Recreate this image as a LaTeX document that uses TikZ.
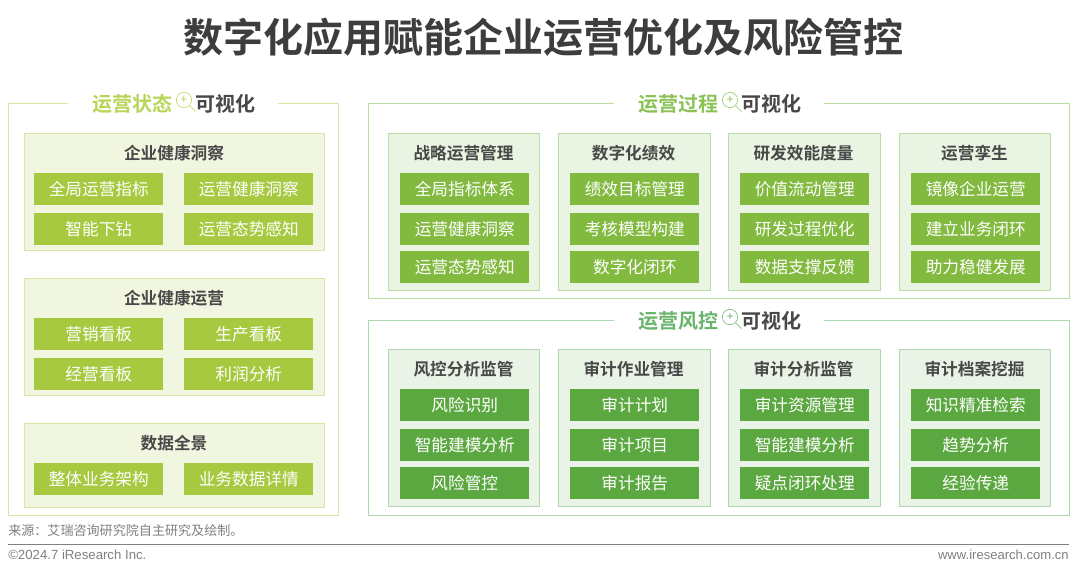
\documentclass[tikz,border=0pt]{standalone}
\usepackage{fontspec}
\setmainfont{Liberation Sans}
\newfontfamily\cjk{Noto Sans CJK SC}
\newfontfamily\cjkbold{Noto Sans CJK SC Bold}
\usetikzlibrary{positioning}
\definecolor{limechip}{HTML}{A6C93F}
\definecolor{limefill}{HTML}{F0F6DF}
\definecolor{limeline}{HTML}{D8E8A4}
\definecolor{limehead}{HTML}{B9D558}
\definecolor{leafchip}{HTML}{82BA40}
\definecolor{leaffill}{HTML}{EAF4E2}
\definecolor{leafline}{HTML}{BADDA6}
\definecolor{leafhead}{HTML}{8AC255}
\definecolor{greenchip}{HTML}{5CA840}
\definecolor{greenfill}{HTML}{E9F4E6}
\definecolor{greenline}{HTML}{ABD9AB}
\definecolor{greenhead}{HTML}{6AB56C}
\definecolor{inkdark}{HTML}{484848}

\begin{document}
\begin{tikzpicture}[
                x=0.75pt, y=-0.75pt,
                panel/.style={draw, line width=0.8pt, anchor=north west, inner sep=0pt},
                groupbox/.style={draw, line width=0.8pt, anchor=north west, inner sep=0pt},
                chip/.style={anchor=north west, minimum width=96.75pt, minimum height=24pt,
                             inner sep=0pt, text=white, font=\fontsize{12.5}{14}\cjk},
                limegroup/.style={groupbox, draw=limeline, fill=limefill},
                leafgroup/.style={groupbox, draw=leafline, fill=leaffill},
                greengroup/.style={groupbox, draw=greenline, fill=greenfill},
                limebox/.style={chip, fill=limechip},
                leafbox/.style={chip, fill=leafchip},
                greenbox/.style={chip, fill=greenchip},
                grouphead/.style={font=\fontsize{12.5}{14}\cjkbold, text=inkdark},
                bandhead/.style={font=\fontsize{15}{18}\cjkbold},
                cover/.style={fill=white, minimum height=12pt, inner sep=0pt},
            ]
                \useasboundingbox[fill=white] (0,0) rectangle (1080,571);

                % Main title
                \node[font=\fontsize{30}{36}\cjkbold, text=inkdark!85!black] (maintitle) at (543,37) {数字化应用赋能企业运营优化及风险管控};

                % Outer panels
                \node[panel, draw=limeline, minimum width=247.5pt, minimum height=309pt] (statepanel) at (8,103) {};
                \node[panel, draw=leafline, minimum width=525.75pt, minimum height=146.25pt] (procpanel) at (368,103) {};
                \node[panel, draw=greenline, minimum width=525.75pt, minimum height=146.25pt] (riskpanel) at (368,320) {};

                % Panel headings
                \foreach \p/\cx/\cy/\col/\txt in {state/173/103/limehead/运营状态, proc/719/103/leafhead/运营过程, risk/719/320/greenhead/运营风控} {
                    \node[cover, minimum width=157pt] (\p cover) at (\cx,\cy) {};
                    \node[bandhead, text=\col] (\p head) at (\cx-41,\cy+1) {\txt};
                    \node[bandhead, text=inkdark] (\p view) at (\cx+52,\cy+1) {可视化};
                    \node[circle, draw=\col, line width=0.4pt, minimum size=11.5pt, inner sep=0pt,
                          font=\fontsize{9}{9}\selectfont, text=\col] (\p lens) at (\cx+11,\cy-3) {+};
                    \draw[\col!70, line width=0.6pt] (\p lens.south east) -- ++(6,6);
                }

                % Left panel groups
                \node[limegroup, minimum width=225pt, minimum height=88pt] (healthsee) at (24,133) {};
                \node[limegroup, minimum width=225pt, minimum height=88pt] (healthrun) at (24,278) {};
                \node[limegroup, minimum width=225pt, minimum height=63pt] (datafull) at (24,423) {};
                \node[grouphead] (healthseehead) at (174,153) {企业健康洞察};
                \node[grouphead] (healthrunhead) at (174,298) {企业健康运营};
                \node[grouphead] (datafullhead) at (174,443) {数据全景};

                \foreach \n/\x/\y/\txt in {a/34/173/全局运营指标, b/184/173/运营健康洞察, c/34/213/智能下钻, d/184/213/运营态势感知,
                                           e/34/318/营销看板, f/184/318/生产看板, g/34/358/经营看板, h/184/358/利润分析,
                                           i/34/463/整体业务架构, j/184/463/业务数据详情} {
                    \node[limebox] (left\n) at (\x,\y) {\txt};
                }

                % Process columns
                \foreach \n/\x/\w/\hd/\ta/\tb/\tc in {1/388/113.25pt/战略运营管理/全局指标体系/运营健康洞察/运营态势感知,
                                                      2/558/114pt/数字化绩效/绩效目标管理/考核模型构建/数字化闭环,
                                                      3/728/114pt/研发效能度量/价值流动管理/研发过程优化/数据支撑反馈,
                                                      4/899/113.25pt/运营孪生/镜像企业运营/建立业务闭环/助力稳健发展} {
                    \node[leafgroup, minimum width=\w, minimum height=117.75pt] (procgroup\n) at (\x,133) {};
                    \node[grouphead] (prochead\n) at (\x+75.5,153) {\hd};
                    \node[leafbox] (proc\n a) at (\x+12,173) {\ta};
                    \node[leafbox] (proc\n b) at (\x+12,213) {\tb};
                    \node[leafbox] (proc\n c) at (\x+12,251) {\tc};
                }

                % Risk columns
                \foreach \n/\x/\w/\hd/\ta/\tb/\tc in {1/388/113.25pt/风控分析监管/风险识别/智能建模分析/风险管控,
                                                      2/558/114pt/审计作业管理/审计计划/审计项目/审计报告,
                                                      3/728/114pt/审计分析监管/审计资源管理/智能建模分析/疑点闭环处理,
                                                      4/899/113.25pt/审计档案挖掘/知识精准检索/趋势分析/经验传递} {
                    \node[greengroup, minimum width=\w, minimum height=117.75pt] (riskgroup\n) at (\x,349) {};
                    \node[grouphead] (riskhead\n) at (\x+75.5,369) {\hd};
                    \node[greenbox] (risk\n a) at (\x+12,389) {\ta};
                    \node[greenbox] (risk\n b) at (\x+12,429) {\tb};
                    \node[greenbox] (risk\n c) at (\x+12,467) {\tc};
                }

                % Footer
                \node[anchor=west, inner sep=0pt, font=\fontsize{9.8}{12}\cjk, text=gray] (source) at (8,531) {来源：艾瑞咨询研究院自主研究及绘制。};
                \coordinate (ruleleft) at (8,544);
                \coordinate (ruleright) at (1069,544);
                \draw[gray, line width=0.6pt] (ruleleft) -- (ruleright);
                \node[anchor=west, inner sep=0pt, font=\fontsize{9.9}{12}\selectfont, text=gray] (copyright) at (8,555) {©2024.7 iResearch Inc.};
                \node[anchor=east, inner sep=0pt, font=\fontsize{9.8}{12}\selectfont, text=gray] (website) at (1069,555) {www.iresearch.com.cn};
            \end{tikzpicture}
\end{document}
